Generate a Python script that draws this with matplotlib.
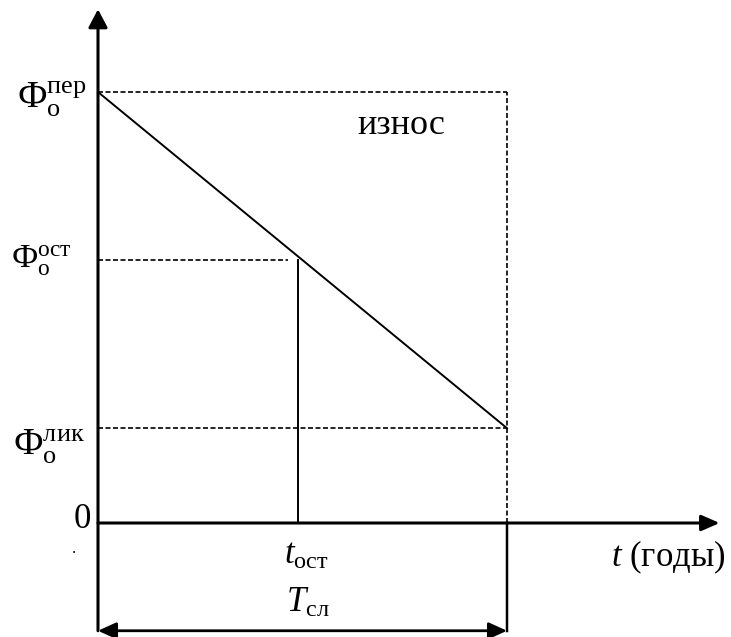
import matplotlib.pyplot as plt
from matplotlib.patches import ArrowStyle

plt.rcParams['font.family'] = ['Liberation Serif', 'DejaVu Serif']
plt.rcParams['mathtext.fontset'] = 'custom'
plt.rcParams['mathtext.rm'] = 'Liberation Serif'
plt.rcParams['mathtext.it'] = 'Liberation Serif:italic'

# схема линейной амортизации (условные единицы)
T_sl = 10.0        # срок службы
t_ost = 4.9        # текущий момент
phi_per = 100.0    # первоначальная стоимость
phi_ost = 61.0     # остаточная стоимость
phi_lik = 22.0     # ликвидационная стоимость

t_axis_end = 15.2
phi_axis_end = 119.2
bottom_arrow = -25.0

fig = plt.figure(figsize=(7.31, 6.37), dpi=100)
ax = fig.add_axes([0, 0, 1, 1])
ax.set_xlim(-2.396, 15.477)
ax.set_ylim(-26.45, 121.35)
ax.axis('off')

lw_axis = 2.2
lw_thin = 1.4
dash = (0, (3, 1.5))

head = ArrowStyle('-|>', head_length=1.1, head_width=0.58)
both = ArrowStyle('<|-|>', head_length=1.1, head_width=0.5)

# оси
ax.annotate('', xy=(0, phi_axis_end), xytext=(0, bottom_arrow),
            arrowprops=dict(arrowstyle=head, mutation_scale=10, lw=lw_axis,
                            color='black', shrinkA=0, shrinkB=0))
ax.annotate('', xy=(t_axis_end, 0), xytext=(0, 0),
            arrowprops=dict(arrowstyle=ArrowStyle('-|>', head_length=1.1, head_width=0.48),
                            mutation_scale=10, lw=lw_axis,
                            color='black', shrinkA=0, shrinkB=0))

# линия стоимости
ax.plot([0, T_sl], [phi_per, phi_lik], color='black', lw=lw_thin)
ax.plot([t_ost, t_ost], [0, phi_ost], color='black', lw=lw_thin)

# пунктиры
ax.plot([0, T_sl], [phi_per, phi_per], color='black', lw=1.2, linestyle=dash)
ax.plot([T_sl, T_sl], [0, phi_per], color='black', lw=1.2, linestyle=dash)
ax.plot([0, t_ost - 0.25], [phi_ost, phi_ost], color='black', lw=1.2, linestyle=dash)
ax.plot([0, T_sl], [phi_lik, phi_lik], color='black', lw=1.2, linestyle=dash)

# срок службы
ax.plot([T_sl, T_sl], [0, bottom_arrow], color='black', lw=lw_thin + 0.4)
ax.annotate('', xy=(T_sl, bottom_arrow), xytext=(0, bottom_arrow),
            arrowprops=dict(arrowstyle=both, mutation_scale=10, lw=lw_thin + 0.6,
                            color='black', shrinkA=0, shrinkB=0))

# подписи
fs = 25
ax.annotate(r'$\mathrm{Ф}_{\mathrm{о}}^{\mathrm{пер}}$', xy=(0, phi_per), xytext=(-11, -7),
            textcoords='offset pixels', ha='right', va='center', fontsize=27)
ax.annotate(r'$\mathrm{Ф}_{\mathrm{о}}^{\mathrm{ост}}$', xy=(0, phi_ost), xytext=(-26, -1),
            textcoords='offset pixels', ha='right', va='center', fontsize=24)
ax.annotate(r'$\mathrm{Ф}_{\mathrm{о}}^{\mathrm{лик}}$', xy=(0, phi_lik), xytext=(-13, -19),
            textcoords='offset pixels', ha='right', va='center', fontsize=27)
ax.annotate('0', xy=(0, 0), xytext=(-16, 4), textcoords='offset pixels',
            ha='center', va='center', fontsize=fs)
ax.annotate('.', xy=(0, 0), xytext=(-24, -26), textcoords='offset pixels',
            ha='center', va='center', fontsize=12)
ax.annotate(r'$t_{\mathrm{ост}}$', xy=(t_ost, 0), xytext=(8, -32),
            textcoords='offset pixels', ha='center', va='center', fontsize=fs)
ax.annotate(r'$T_{\mathrm{сл}}$', xy=(T_sl / 2, bottom_arrow), xytext=(5, 27),
            textcoords='offset pixels', ha='center', va='center', fontsize=fs)
ax.annotate(r'$t$ (годы)', xy=(t_axis_end, 0), xytext=(6, -34),
            textcoords='offset pixels', ha='right', va='center', fontsize=25)
ax.text(7.41, 92.3, 'износ', ha='center', va='center', fontsize=26)

fig.savefig('out.png', dpi=100, facecolor='white')
